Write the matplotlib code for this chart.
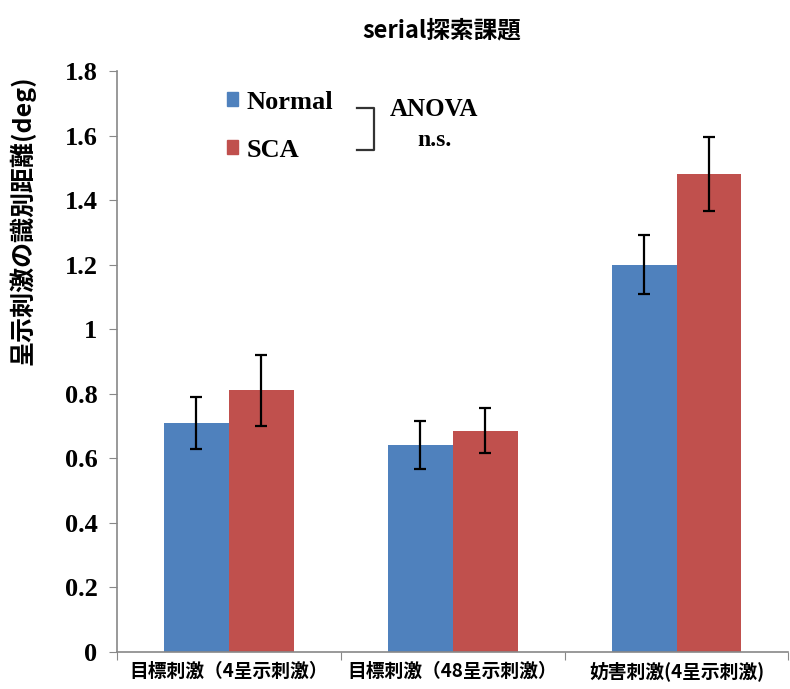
import numpy as np
import matplotlib.pyplot as plt
from matplotlib.lines import Line2D
from matplotlib.patches import Patch

plt.rcParams['font.family'] = ['Noto Sans CJK JP', 'DejaVu Sans']

categories = ['目標刺激（4呈示刺激）', '目標刺激（48呈示刺激）', '妨害刺激(4呈示刺激)']
normal = [0.71, 0.64, 1.20]
normal_err = [0.08, 0.075, 0.092]
sca = [0.81, 0.685, 1.48]
sca_err = [0.11, 0.07, 0.114]
yticks = [0, 0.2, 0.4, 0.6, 0.8, 1, 1.2, 1.4, 1.6, 1.8]

blue = '#4F81BD'
red = '#C0504D'

fig = plt.figure(figsize=(7.9, 6.89), dpi=100)
ax = fig.add_axes([0.148, 0.054, 0.85, 0.843])

x = np.arange(len(categories))
w = 0.29
err_kw = dict(ecolor='black', elinewidth=1.6, capsize=4, capthick=1.6)
ax.bar(x - w / 2, normal, w, yerr=normal_err, color=blue, label='Normal', error_kw=err_kw)
ax.bar(x + w / 2, sca, w, yerr=sca_err, color=red, label='SCA', error_kw=err_kw)

ax.set_xlim(-0.5, 2.5)
ax.set_ylim(0, 1.8)
ax.set_yticks(yticks)
ax.set_yticklabels(['0', '0.2', '0.4', '0.6', '0.8', '1', '1.2', '1.4', '1.6', '1.8'],
                   family='Liberation Serif', fontweight='bold', fontsize=19)
ax.tick_params(axis='y', direction='out', length=6, color='#888888', pad=8)

# category boundaries get the tick marks, labels sit in between
ax.set_xticks([-0.5, 0.5, 1.5, 2.5])
ax.set_xticklabels([])
ax.tick_params(axis='x', direction='out', length=6, color='#888888')
for xi, lab in zip(x, categories):
    ax.text(xi, -0.03, lab, ha='center', va='top', fontsize=13.5, fontweight='bold')

for s in ['top', 'right']:
    ax.spines[s].set_visible(False)
for s in ['left', 'bottom']:
    ax.spines[s].set_color('#888888')
    ax.spines[s].set_linewidth(1.2)

handles = [Patch(color=blue), Patch(color=red)]
ax.legend(handles, ['Normal', 'SCA'], loc='upper left', bbox_to_anchor=(0.128, 1.007),
          frameon=False, handlelength=0.45, handleheight=0.45, handletextpad=0.3,
          labelspacing=0.95, prop={'family': 'Liberation Serif', 'weight': 'bold', 'size': 19})

# bracket joining the two groups with the ANOVA result
fig.add_artist(Line2D([357 / 790, 374 / 790, 374 / 790, 357 / 790],
                      [1 - 108 / 689, 1 - 108 / 689, 1 - 150 / 689, 1 - 150 / 689],
                      color='#333333', lw=1.6))
fig.text(434 / 790, 1 - 110 / 689, 'ANOVA', ha='center', va='center',
         family='Liberation Serif', fontweight='bold', fontsize=18)
fig.text(434 / 790, 1 - 140 / 689, 'n.s.', ha='center', va='center',
         family='Liberation Serif', fontweight='bold', fontsize=17)

fig.text(442 / 790, 1 - 30 / 689, 'serial探索課題', ha='center', va='center',
         fontsize=17, fontweight='bold')
fig.text(22 / 790, 1 - 220 / 689, '呈示刺激の識別距離(deg)', ha='center', va='center',
         rotation=90, fontsize=18, fontweight='bold')

fig.savefig('out.png', dpi=100)
